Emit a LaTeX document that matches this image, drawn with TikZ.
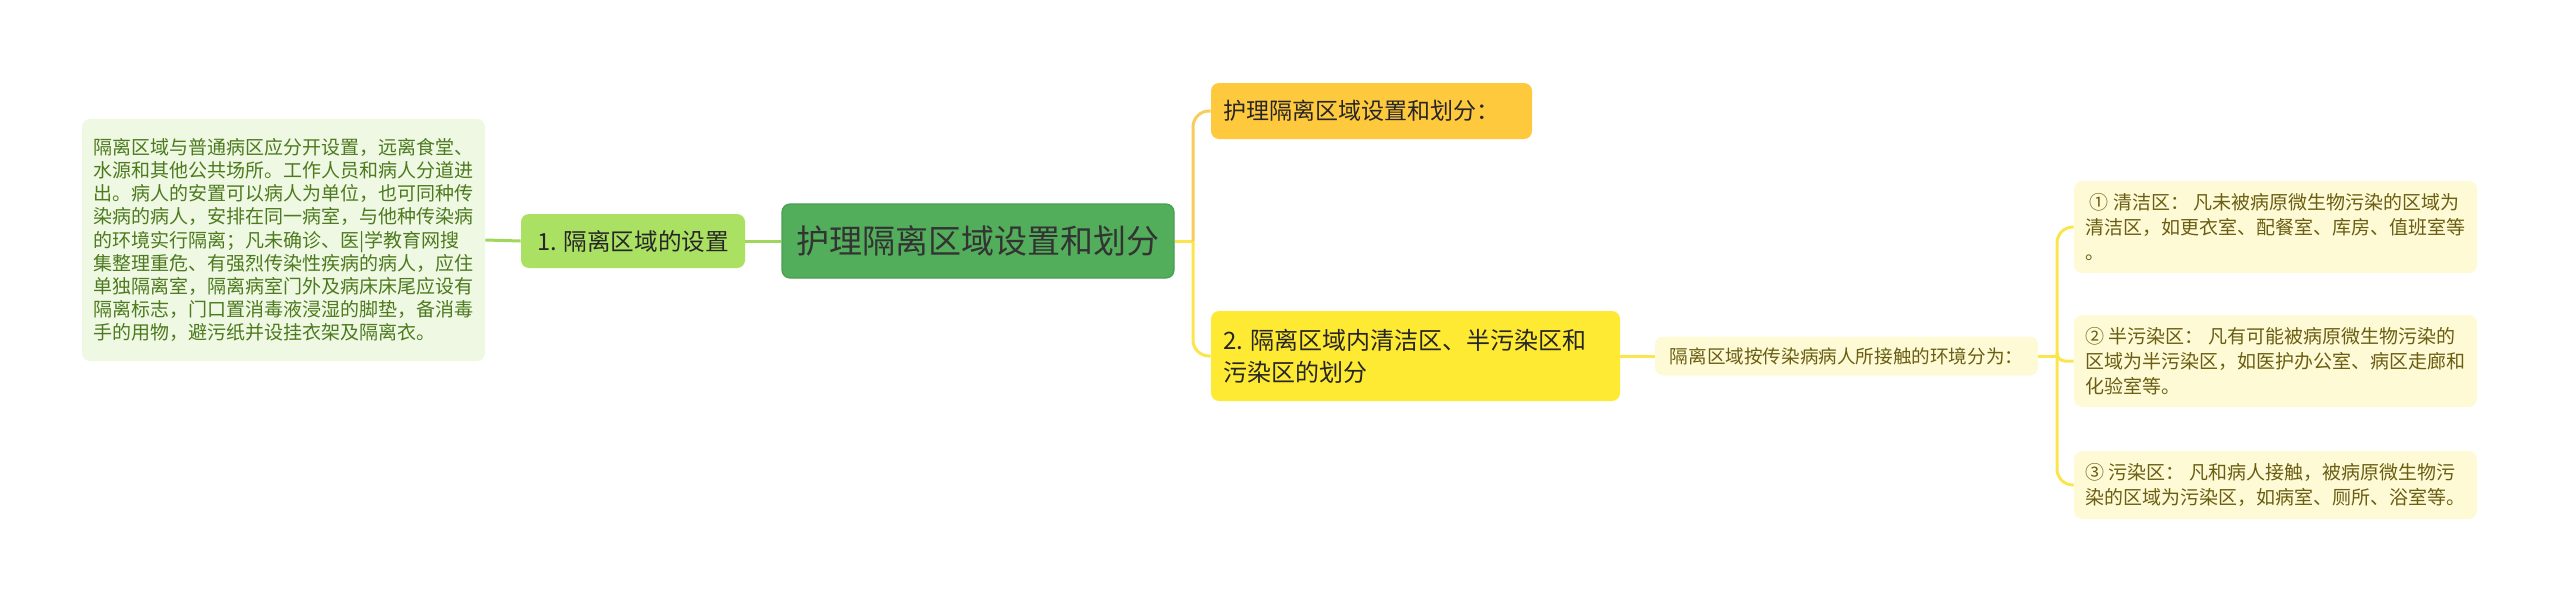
\documentclass[tikz,border=0pt]{standalone}
\usepackage{fontspec}
\setmainfont{Noto Sans CJK SC}

\definecolor{rootfill}{HTML}{52AE5B}
\definecolor{rootedge}{HTML}{4A9E52}
\definecolor{subgreen}{HTML}{ABE162}
\definecolor{leafgreen}{HTML}{EEF8E2}
\definecolor{textgreen}{HTML}{4E7A1F}
\definecolor{linegreen}{HTML}{A0D65C}
\definecolor{suborange}{HTML}{FFC93E}
\definecolor{subyellow}{HTML}{FFEA33}
\definecolor{lineorange}{HTML}{F6CD5E}
\definecolor{lineyellow}{HTML}{FAE54C}
\definecolor{leafcream}{HTML}{FFFAD6}
\definecolor{textolive}{HTML}{6A5E12}

\tikzset{
  box/.style={rounded corners=4pt, inner sep=0pt, align=left},
  conn/.style={line width=1.5pt}
}

\begin{document}
\begin{tikzpicture}[x=0.5pt,y=-0.5pt]
\useasboundingbox (0,0) rectangle (2560,600);

% Root
\node[box, fill=rootfill, draw=rootedge, line width=0.6pt, text=black!80,
  minimum width=196pt, minimum height=37pt,
  font=\fontsize{16.5}{20}\selectfont] (root) at (978,241) {护理隔离区域设置和划分};

% Left branch
\node[box, fill=subgreen, text=black!85, minimum width=112pt, minimum height=27pt,
  font=\fontsize{11.8}{14}\selectfont] (setup) at (633,241) {1. 隔离区域的设置};
\node[box, fill=leafgreen, text=textgreen, minimum width=201.5pt, minimum height=121pt,
  font=\fontsize{9.5}{11.6}\selectfont] (setupnote) at (283.5,240)
  {隔离区域与普通病区应分开设置，远离食堂、\\
   水源和其他公共场所。工作人员和病人分道进\\
   出。病人的安置可以病人为单位，也可同种传\\
   染病的病人，安排在同一病室，与他种传染病\\
   的环境实行隔离；凡未确诊、医|学教育网搜\\
   集整理重危、有强烈传染性疾病的病人，应住\\
   单独隔离室，隔离病室门外及病床床尾应设有\\
   隔离标志，门口置消毒液浸湿的脚垫，备消毒\\
   手的用物，避污纸并设挂衣架及隔离衣。};

% Right branches
\node[box, fill=suborange, text=black!85, inner xsep=6pt, text width=148.5pt,
  align=flush left, minimum height=28pt, font=\fontsize{11.5}{14}\selectfont] (title) at (1371.5,111)
  {护理隔离区域设置和划分：};
\node[box, fill=subyellow, text=black!85, inner xsep=6pt, text width=192.5pt,
  align=flush left, minimum height=45pt, font=\fontsize{12}{16}\selectfont] (zones) at (1415.5,356)
  {2. 隔离区域内清洁区、半污染区和\\污染区的划分};
\node[box, fill=leafcream, text=textolive, minimum width=191.5pt, minimum height=19.5pt,
  font=\fontsize{9.3}{12}\selectfont] (env) at (1846.5,356) {隔离区域按传染病病人所接触的环境分为：};

% Zone leaves
\node[box, fill=leafcream, text=textolive, minimum width=201.5pt, minimum height=46pt,
  font=\fontsize{9.5}{12.5}\selectfont] (clean) at (2275.5,227)
  {\ ① 清洁区：\ 凡未被病原微生物污染的区域为\\清洁区，如更衣室、配餐室、库房、值班室等\\。};
\node[box, fill=leafcream, text=textolive, minimum width=201.5pt, minimum height=46pt,
  font=\fontsize{9.5}{12.5}\selectfont] (semi) at (2275.5,361)
  {② 半污染区：\ 凡有可能被病原微生物污染的\\区域为半污染区，如医护办公室、病区走廊和\\化验室等。};
\node[box, fill=leafcream, text=textolive, minimum width=201.5pt, minimum height=34pt,
  font=\fontsize{9.5}{12.5}\selectfont] (dirty) at (2275.5,485)
  {③ 污染区：\ 凡和病人接触，被病原微生物污\\染的区域为污染区，如病室、厕所、浴室等。};

% Connectors
\draw[conn, linegreen] (root.west) -- (setup.east);
\draw[conn, linegreen] (setup.west) -- (setupnote.east);

\coordinate (rj) at (1193,241);
\draw[conn, lineyellow] (root.east) -- (rj);
\draw[conn, lineorange, rounded corners=8pt] (rj) |- (title.west);
\draw[conn, lineyellow, rounded corners=8pt] (rj) |- (zones.west);

\draw[conn, lineyellow] (zones.east) -- (env.west);
\coordinate (ej) at (2057,356);
\draw[conn, lineyellow] (env.east) -- (ej);
\draw[conn, lineyellow, rounded corners=8pt] (ej) |- (clean.west);
\draw[conn, lineyellow, rounded corners=4pt] (ej) |- (semi.west);
\draw[conn, lineyellow, rounded corners=8pt] (ej) |- (dirty.west);

\end{tikzpicture}
\end{document}
